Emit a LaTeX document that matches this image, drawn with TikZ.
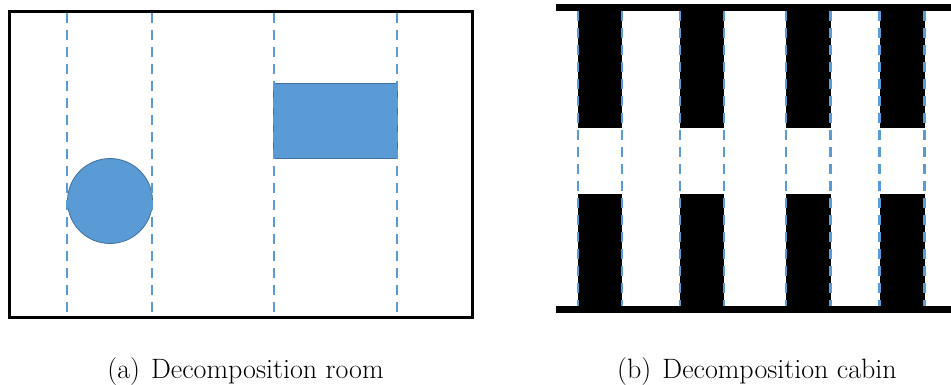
\documentclass[tikz,border=0pt]{standalone}
\usepackage{tikz}
\definecolor{splitblue}{HTML}{5B9BD5}
\definecolor{shapeedge}{HTML}{41719C}
\tikzset{
  frame/.style={draw=black, line width=3pt},
  splitline/.style={draw=splitblue, line width=2.4pt, dash pattern=on 10pt off 7pt},
  obstacle/.style={fill=splitblue, draw=shapeedge, line width=0.8pt},
  wall/.style={fill=black, draw=none},
  caption/.style={font=\fontsize{28}{32}\selectfont, anchor=base, inner sep=0pt}
}
\begin{document}
\begin{tikzpicture}[x=1pt, y=-1pt]
  \useasboundingbox (0,0) rectangle (951,385);
  \fill[white] (0,0) rectangle (951,385);

  % (a) room with two obstacles
  \draw[frame] (9.5,11.5) rectangle (472,317);
  \node[obstacle, circle, minimum size=85pt, inner sep=0pt] (disk) at (110,201) {};
  \draw[obstacle] (273.5,83) rectangle (397,158);
  \foreach \x/\n in {67/a1, 152/a2, 274/a3, 397/a4} {
    \coordinate (\n top) at (\x,13);
    \coordinate (\n bot) at (\x,316);
    \draw[splitline] (\n top) -- (\n bot);
  }
  \node[caption] (capa) at (245.5,378) {(a)\hspace{0.4em}Decomposition room};

  % (b) cabin with wall segments
  \fill[wall] (556,4) rectangle (951,11);
  \fill[wall] (556,306) rectangle (951,313);
  \foreach \l/\r in {578/622, 680/724, 786/830.5, 879.5/924.5} {
    \fill[wall] (\l,11) rectangle (\r,128);
    \fill[wall] (\l,194) rectangle (\r,306);
  }
  \foreach \x/\n in {578/b1, 622/b2, 680/b3, 724/b4, 786/b5, 830.5/b6, 879.5/b7, 924.5/b8} {
    \coordinate (\n top) at (\x,11);
    \coordinate (\n bot) at (\x,306);
    \draw[splitline] (\n top) -- (\n bot);
  }
  \node[caption] (capb) at (757,378) {(b)\hspace{0.4em}Decomposition cabin};
\end{tikzpicture}
\end{document}
